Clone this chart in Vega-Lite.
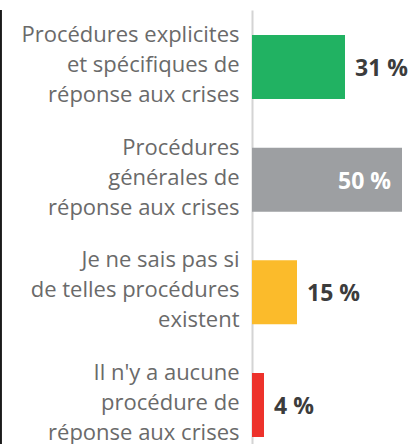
{
  "$schema": "https://vega.github.io/schema/vega-lite/v6.json",
  "autosize": {"type": "none"},
  "padding": {"left": 252, "top": 10, "right": 0, "bottom": 0},
  "width": 165,
  "height": 452,
  "background": "white",
  "config": {"view": {"stroke": null}, "font": "Open Sans"},
  "data": {
    "values": [
      {"category": "Procédures explicites|et spécifiques de|réponse aux crises", "value": 31, "label": "31 %", "color": "#21b262"},
      {"category": "Procédures|générales de|réponse aux crises", "value": 50, "label": "50 %", "color": "#9d9fa2"},
      {"category": "Je ne sais pas si|de telles procédures|existent", "value": 15, "label": "15 %", "color": "#fbbb2b"},
      {"category": "Il n'y a aucune|procédure de|réponse aux crises", "value": 4, "label": "4 %", "color": "#ed322b"}
    ]
  },
  "encoding": {
    "y": {
      "field": "category",
      "type": "nominal",
      "sort": null,
      "scale": {"paddingInner": 0.432, "paddingOuter": 0.222},
      "axis": {
        "title": null,
        "ticks": false,
        "labelExpr": "split(datum.label, '|')",
        "labelFont": "Open Sans",
        "labelFontSize": 22,
        "labelLineHeight": 30,
        "labelColor": "#6a6a6a",
        "labelPadding": 13,
        "labelOffset": -32,
        "labelLimit": 400,
        "labelAlign": "right",
        "labelBaseline": "middle",
        "domainColor": "#d4d4d4",
        "domainWidth": 2
      }
    },
    "x": {
      "field": "value",
      "type": "quantitative",
      "scale": {"domain": [0, 55], "nice": false},
      "axis": null
    }
  },
  "layer": [
    {
      "mark": {"type": "rule", "clip": false, "color": "#1a1a1a", "strokeWidth": 3},
      "encoding": {"x": {"datum": -84}, "y": null}
    },
    {
      "mark": {"type": "bar", "x": 1},
      "encoding": {
        "color": {"field": "color", "type": "nominal", "scale": null}
      }
    },
    {
      "transform": [{"filter": "datum.value < 40"}],
      "mark": {"type": "text", "align": "left", "baseline": "middle", "dx": 10, "dy": 2, "fontSize": 23, "fontWeight": "bold", "color": "#3c3c3c"},
      "encoding": {"text": {"field": "label"}}
    },
    {
      "transform": [{"filter": "datum.value >= 40"}],
      "mark": {"type": "text", "align": "right", "baseline": "middle", "dx": -11, "dy": 2, "fontSize": 23, "fontWeight": "bold", "color": "white"},
      "encoding": {"text": {"field": "label"}}
    }
  ]
}
